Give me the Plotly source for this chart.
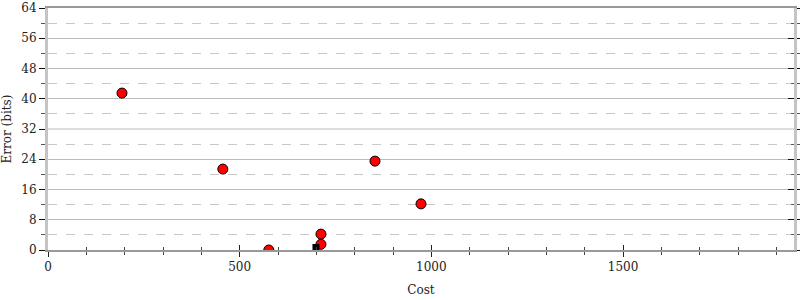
import plotly.graph_objects as go

# Data
cost = [193, 456, 576, 712, 712, 853, 973]
error_bits = [41.5, 21.4, 0.0, 4.2, 1.5, 23.5, 12.2]
best_cost = [699]
best_error = [0.66]

x_title = "Cost"
y_title = "Error (bits)"

fig = go.Figure()
fig.add_trace(go.Scatter(
    x=cost, y=error_bits, mode="markers",
    marker=dict(color="#ff0000", size=10, line=dict(color="#000000", width=1)),
    showlegend=False, hoverinfo="skip",
))
fig.add_trace(go.Scatter(
    x=best_cost, y=best_error, mode="markers",
    marker=dict(color="#000000", size=7, symbol="square", line=dict(width=0)),
    showlegend=False, hoverinfo="skip",
))
# invisible trace for overlay axes (inside ticks)
fig.add_trace(go.Scatter(x=[None], y=[None], xaxis="x2", yaxis="y2", showlegend=False))

font = dict(family="DejaVu Serif", size=12, color="#222222")

fig.update_layout(
    width=800, height=300,
    margin=dict(l=48, r=6, t=8, b=50, autoexpand=False),
    paper_bgcolor="white", plot_bgcolor="white",
    font=font,
    xaxis=dict(
        range=[0, 1946], dtick=500, tick0=0, automargin=False,
        showgrid=False, zeroline=False,
        showline=True, linecolor="#999999", linewidth=2, mirror=True,
        ticks="outside", ticklen=5, tickcolor="#222222", tickwidth=1,
        minor=dict(dtick=100, ticks="outside", ticklen=3, tickcolor="#444444", showgrid=False),
        title=dict(text=x_title, standoff=12, font=font),
        tickfont=font,
    ),
    xaxis2=dict(
        range=[0, 1946], dtick=500, tick0=0, overlaying="x", anchor="y", automargin=False,
        showgrid=False, zeroline=False, showline=False, showticklabels=False,
        ticks="inside", ticklen=5, tickcolor="#222222", tickwidth=1,
        minor=dict(dtick=100, ticks="inside", ticklen=3, tickcolor="#444444", showgrid=False),
    ),
    yaxis=dict(
        range=[0, 64], dtick=8, tick0=0, automargin=False,
        showgrid=True, gridcolor="#bbbbbb", gridwidth=1,
        zeroline=False,
        showline=True, linecolor="#c4c4c4", linewidth=3, mirror="ticks",
        ticks="outside", ticklen=6, tickcolor="#111111", tickwidth=1,
        minor=dict(dtick=4, ticks="outside", ticklen=4, tickcolor="#555555",
                   showgrid=True, gridcolor="#c8c8c8", griddash="dash", gridwidth=1),
        title=dict(text=y_title, standoff=8, font=font),
        tickfont=font,
    ),
    yaxis2=dict(
        range=[0, 64], dtick=8, tick0=0, overlaying="y", side="right", anchor="x", automargin=False,
        showgrid=False, zeroline=False, showline=False, showticklabels=False,
        ticks="inside", ticklen=6, tickcolor="#111111", tickwidth=1,
        minor=dict(dtick=4, ticks="inside", ticklen=3, tickcolor="#555555", showgrid=False),
    ),
    shapes=[dict(type="line", xref="paper", x0=0, x1=1, yref="y", y0=32, y1=32,
                 line=dict(color="#dddddd", width=2), layer="above")],
)

fig.write_html("out.html")
